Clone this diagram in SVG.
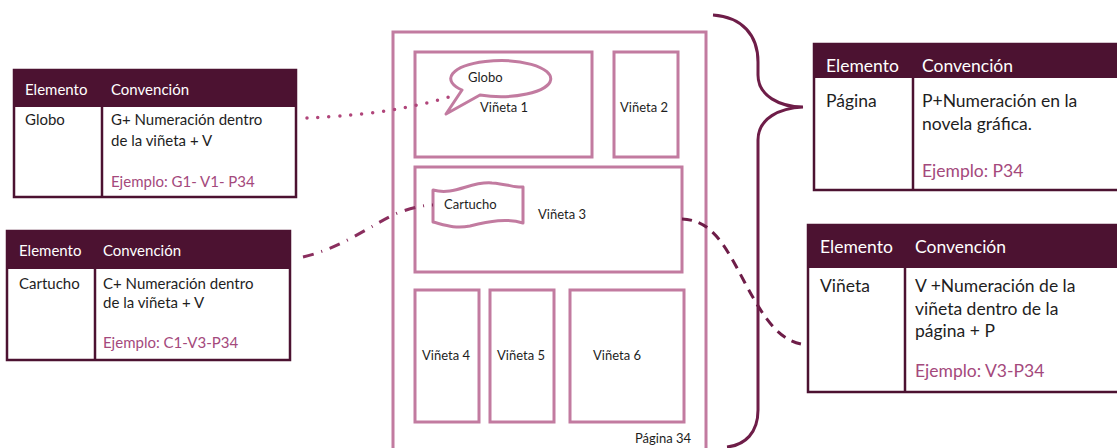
<svg xmlns="http://www.w3.org/2000/svg" width="1117" height="448" viewBox="0 0 1117 448">
<style>
.frame{fill:#fff;stroke:#c27ba0;stroke-width:3}
.tb{fill:#fff;stroke:#4c1231;stroke-width:2.5}
.hd{fill:#4c1231}
.ln{stroke:#4c1231;stroke-width:2.5}
text{font-family:Lato,"Liberation Sans",sans-serif}
.ht{fill:#fff;font-size:15px}
.bt{fill:#1e1e1e;font-size:15px}
.ex{fill:#a4497c;font-size:15px}
.ht2{fill:#fff;font-size:17.5px}
.bt2{fill:#1e1e1e;font-size:17.5px}
.ex2{fill:#a4497c;font-size:17.5px}
.pl{fill:#1e1e1e;font-size:13px}
</style>
<rect width="1117" height="448" fill="#fff"/>

<g id="page">
<rect class="frame" x="393" y="32" width="313" height="430"/>
<text class="pl" x="635" y="443" font-size="14">Página 34</text>
</g>
<g id="vineta1">
<rect class="frame" x="415" y="52" width="177" height="105"/>
<text class="pl" x="480" y="112">Viñeta 1</text>
</g>
<g id="vineta2">
<rect class="frame" x="614" y="52" width="64" height="105"/>
<text class="pl" x="620" y="112">Viñeta 2</text>
</g>
<g id="vineta3">
<rect class="frame" x="415" y="167" width="267" height="105"/>
<text class="pl" x="538" y="219">Viñeta 3</text>
</g>
<g id="vineta4">
<rect class="frame" x="415" y="290" width="64" height="132"/>
<text class="pl" x="422" y="360">Viñeta 4</text>
</g>
<g id="vineta5">
<rect class="frame" x="490" y="290" width="64" height="132"/>
<text class="pl" x="497" y="360">Viñeta 5</text>
</g>
<g id="vineta6">
<rect class="frame" x="570" y="290" width="114" height="132"/>
<text class="pl" x="593" y="360">Viñeta 6</text>
</g>
<g id="globo">
<path d="M462,90 A50,18 0 1 1 480,95 L446,114 Z" fill="#fff" stroke="#c27ba0" stroke-width="3" stroke-linejoin="round"/>
<text class="pl" x="468" y="82" font-size="13.5">Globo</text>
</g>
<g id="cartucho">
<path d="M433,190 C455,196 470,181 492,183 C507,184 516,188 523,187 L523,223 C507,218 490,221 470,226 C455,229 445,225 433,222 Z" fill="#fff" stroke="#c27ba0" stroke-width="3" stroke-linejoin="round"/>
<text class="pl" x="444" y="209" font-size="14">Cartucho</text>
</g>

<g id="connectors" fill="none">
<path d="M307,118 C350,116 400,112 452,96" stroke="#b0457a" stroke-width="3.5" stroke-linecap="round" stroke-dasharray="0 11"/>
<path d="M303,257 C345,247 375,222 400,212 C415,207 425,205 433,205" stroke="#8a2e5e" stroke-width="3" stroke-dasharray="11 8 1 8"/>
<path d="M682,219 C712,220 725,245 745,283 C765,320 780,343 808,345" stroke="#6e1d48" stroke-width="3" stroke-dasharray="10 7"/>
<path d="M713,15 C742,17 758,35 758,62 L758,75 C758,96 780,107 803,107 C780,108 758,118 758,140 L758,410 C758,433 745,445 727,447" stroke="#6e1d48" stroke-width="3"/>
</g>

<g id="tabla-globo">
<rect class="tb" x="14" y="70" width="282" height="127"/>
<rect class="hd" x="14" y="70" width="282" height="37"/>
<line class="ln" x1="102" y1="107" x2="102" y2="197"/>
<text class="ht" x="25" y="95">Elemento</text>
<text class="ht" x="111" y="95">Convención</text>
<text class="bt" x="25" y="125">Globo</text>
<text class="bt" x="111" y="125">G+ Numeración dentro</text>
<text class="bt" x="111" y="146">de la viñeta + V</text>
<text class="ex" x="111" y="187">Ejemplo: G1- V1- P34</text>
</g>
<g id="tabla-cartucho">
<rect class="tb" x="7" y="231" width="283" height="129"/>
<rect class="hd" x="7" y="231" width="283" height="38"/>
<line class="ln" x1="95" y1="269" x2="95" y2="360"/>
<text class="ht" x="19" y="256">Elemento</text>
<text class="ht" x="103" y="256">Convención</text>
<text class="bt" x="19" y="289">Cartucho</text>
<text class="bt" x="103" y="289">C+ Numeración dentro</text>
<text class="bt" x="103" y="308">de la viñeta + V</text>
<text class="ex" x="103" y="348">Ejemplo: C1-V3-P34</text>
</g>
<g id="tabla-pagina">
<rect class="tb" x="814" y="44" width="320" height="146"/>
<rect class="hd" x="814" y="44" width="320" height="34"/>
<line class="ln" x1="913" y1="78" x2="913" y2="190"/>
<text class="ht2" x="826" y="72">Elemento</text>
<text class="ht2" x="922" y="72">Convención</text>
<text class="bt2" x="826" y="107">Página</text>
<text class="bt2" x="922" y="107">P+Numeración en la</text>
<text class="bt2" x="922" y="130">novela gráfica.</text>
<text class="ex2" x="922" y="177">Ejemplo: P34</text>
</g>
<g id="tabla-vineta">
<rect class="tb" x="808" y="225" width="320" height="167"/>
<rect class="hd" x="808" y="225" width="320" height="43"/>
<line class="ln" x1="905" y1="268" x2="905" y2="392"/>
<text class="ht2" x="820" y="253">Elemento</text>
<text class="ht2" x="915" y="253">Convención</text>
<text class="bt2" x="820" y="292">Viñeta</text>
<text class="bt2" x="915" y="292">V +Numeración de la</text>
<text class="bt2" x="915" y="315">viñeta dentro de la</text>
<text class="bt2" x="915" y="337">página + P</text>
<text class="ex2" x="915" y="377">Ejemplo: V3-P34</text>
</g>
</svg>
